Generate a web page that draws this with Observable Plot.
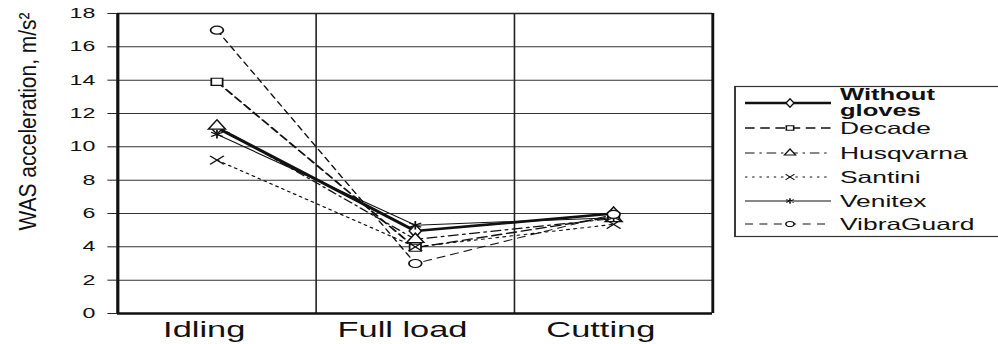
<!DOCTYPE html>
<html>
<head>
<meta charset="utf-8">
<script src="https://cdn.jsdelivr.net/npm/d3@7"></script>
<script src="https://cdn.jsdelivr.net/npm/@observablehq/plot@0.6"></script>
<style>
  html, body { margin: 0; padding: 0; background: white; }
  #chart { width: 998px; height: 344px; overflow: hidden; position: relative; }
</style>
</head>
<body>
<div id="chart"></div>
<script>
// ---- data ----
const categories = ["Idling", "Full load", "Cutting"];
const seriesNames = ["Without gloves", "Decade", "Husqvarna", "Santini", "Venitex", "VibraGuard"];
const withoutGloves = [11.15, 4.95, 6.0];
const decade = [13.9, 3.95, 5.8];
const husqvarna = [11.25, 4.45, 5.7];
const santini = [9.2, 4.0, 5.35];
const venitex = [10.75, 5.3, 5.75];
const vibraGuard = [17.0, 3.0, 5.95];
const yTicks = [0, 2, 4, 6, 8, 10, 12, 14, 16, 18];
const yLabel = "WAS acceleration, m/s\u00B2";

const values = [withoutGloves, decade, husqvarna, santini, venitex, vibraGuard];

// ---- styles ----
const S = 1.6; // horizontal stretch of the original figure
const W = 998 / S;
const styles = [
  {symbol: "diamond", width: 2.6, dash: null},
  {symbol: "square", width: 1.4, dash: "6,3.5"},
  {symbol: "triangle", width: 1.1, dash: "6,3,1.5,3"},
  {symbol: "times", width: 1.1, dash: "1.5,3"},
  {symbol: "asterisk", width: 1.0, dash: null},
  {symbol: "circle", width: 1.0, dash: "5,4"}
];

const rows = seriesNames.map((name, k) =>
  categories.map((c, i) => ({series: name, cat: c, x: i + 0.5, y: values[k][i]}))
);

const lineMarks = [];
const order = [1, 2, 3, 4, 5, 0];
for (const k of order) {
  lineMarks.push(Plot.line(rows[k], {
    x: "x", y: "y", stroke: "#111",
    strokeWidth: styles[k].width,
    strokeDasharray: styles[k].dash || undefined
  }));
}
const dotMarks = rows.map((r, k) => Plot.dot(r, {
  x: "x", y: "y", symbol: () => styles[k].symbol, r: 4,
  fill: "white", stroke: "#111", strokeWidth: 1.1
}));

const chart = Plot.plot({
  width: W,
  height: 344,
  marginLeft: 117 / S,
  marginRight: W - 712 / S,
  marginTop: 13,
  marginBottom: 31,
  x: {domain: [0, 3], axis: null},
  y: {domain: [0, 18], axis: null},
  symbol: {type: "identity"},
  style: {fontFamily: "'Liberation Sans', Arial, sans-serif", color: "#111", background: "white", overflow: "visible"},
  marks: [
    Plot.ruleY(yTicks.filter(t => t > 0 && t < 18), {y: d => d, stroke: "#333", strokeWidth: 1}),
    Plot.ruleY([18], {y: d => d, stroke: "#222", strokeWidth: 1.5}),
    Plot.ruleX([1, 2], {x: d => d, stroke: "#222", strokeWidth: 1}),
    Plot.ruleX([3], {x: d => d, stroke: "#111", strokeWidth: 1.8}),
    Plot.ruleY([0], {y: d => d, stroke: "#111", strokeWidth: 2.5}),
    Plot.ruleX([0], {x: d => d, stroke: "#111", strokeWidth: 2}),
    Plot.axisY({ticks: yTicks, tickSize: 6, tickPadding: 8, fontSize: 14.5, label: null, stroke: "#222"}),
    Plot.text(categories, {x: (d, i) => i + 0.5, y: () => 0, text: d => d, dx: -8, dy: 17, fontSize: 21.5, lineAnchor: "middle", fill: "#111"}),
    Plot.text([yLabel], {frameAnchor: "top-left", dx: 17 - 117 / S, dy: 121 - 13, rotate: -90, text: d => d, fontSize: 15.5, textAnchor: "middle", lineAnchor: "middle", className: "ylab", fill: "#111"}),
    ...lineMarks,
    ...dotMarks
  ]
});

chart.style.transform = `scaleX(${S})`;
chart.style.transformOrigin = "0 0";
chart.style.maxWidth = "none";

const svg = d3.select(chart);
svg.selectAll("g.ylab text").attr("textLength", 218).attr("lengthAdjust", "spacingAndGlyphs");

// ---- legend ----
const lg = svg.append("g").attr("class", "legend")
  .attr("text-anchor", "start")
  .style("font-family", "'Liberation Sans', Arial, sans-serif");
lg.append("rect")
  .attr("x", 735 / S).attr("y", 86.5)
  .attr("width", 200).attr("height", 150)
  .attr("fill", "white").attr("stroke", "#333").attr("stroke-width", 1.2);

const legendY = [103, 128, 153, 177, 201, 224];
const symMap = {
  diamond: d3.symbolDiamond, square: d3.symbolSquare, triangle: d3.symbolTriangle,
  times: d3.symbolTimes, asterisk: d3.symbolAsterisk, circle: d3.symbolCircle
};
seriesNames.forEach((name, k) => {
  const y = legendY[k];
  const st = styles[k];
  lg.append("line")
    .attr("x1", 745 / S).attr("x2", 831 / S).attr("y1", y).attr("y2", y)
    .attr("stroke", "#111").attr("stroke-width", st.width)
    .attr("stroke-dasharray", st.dash);
  lg.append("path")
    .attr("d", d3.symbol(symMap[st.symbol], Math.PI * 2.6 * 2.6)())
    .attr("transform", `translate(${790 / S},${y})`)
    .attr("fill", "white").attr("stroke", "#111").attr("stroke-width", 1);
  if (k === 0) {
    const parts = name.split(" ");
    const t = lg.append("text").attr("x", 840 / S).attr("y", 94)
      .attr("font-size", 16).attr("font-weight", "bold").attr("fill", "#111");
    t.append("tspan").attr("x", 840 / S).attr("dy", "0.35em").text(parts[0]);
    t.append("tspan").attr("x", 840 / S).attr("dy", "1em").text(parts[1]);
  } else {
    lg.append("text").attr("x", 840 / S).attr("y", y).attr("dy", "0.35em")
      .attr("font-size", 16.5).attr("fill", "#111").text(name);
  }
});

document.getElementById("chart").appendChild(chart);
</script>
</body>
</html>
